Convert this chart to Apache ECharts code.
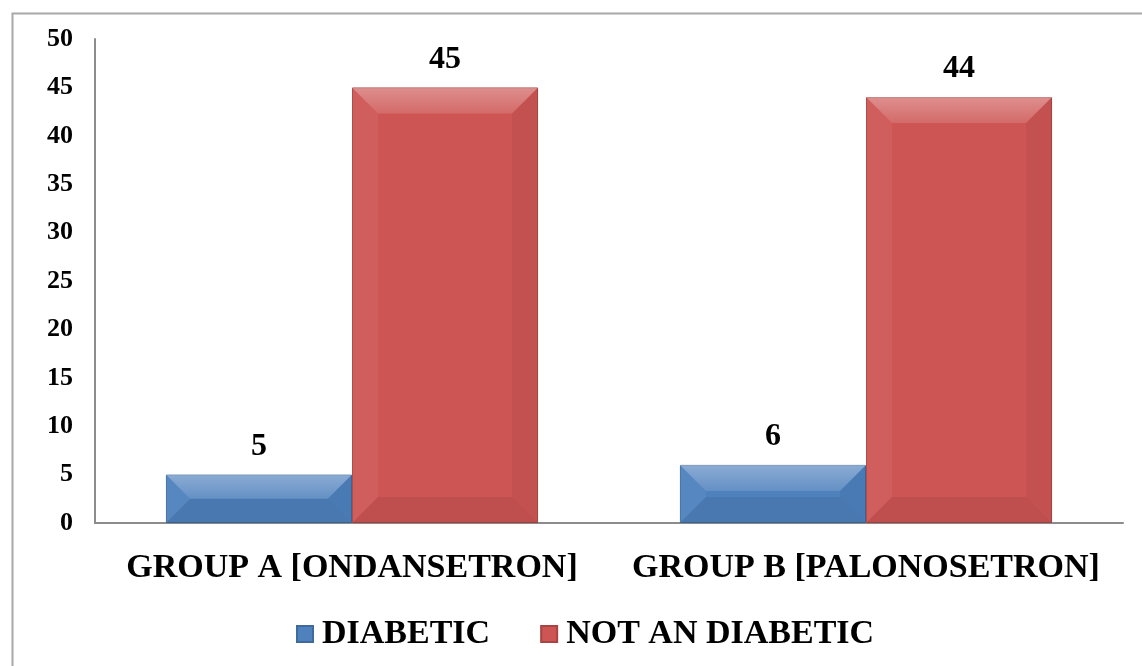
<!DOCTYPE html>
<html>
<head>
<meta charset="utf-8">
<script src="https://cdn.jsdelivr.net/npm/echarts@6/dist/echarts.min.js"></script>
<style>
  html, body { margin: 0; padding: 0; background: #fff; }
  #chart { width: 1142px; height: 666px; }
</style>
</head>
<body>
<div id="chart"></div>
<script>
// Patient counts per treatment group
const categories = ['GROUP A [ONDANSETRON]', 'GROUP B [PALONOSETRON]'];
const seriesNames = ['DIABETIC', 'NOT AN DIABETIC'];
const diabetic = [5, 6];
const notDiabetic = [45, 44];

const FONT = '"Liberation Serif", "Times New Roman", serif';
const GAP = 0.276;            // share of each category left empty
const baseColors = ['#4f81bd', '#cd5654'];
const edgeColors = ['#3f6a9c', '#a84442'];

// Bevelled facets drawn over each bar, positioned through the axes
function bevel(seriesIdx) {
  return function (params, api) {
    const cat = api.value(0);
    const val = api.value(1);
    const top = api.coord([cat, val]);
    const bottom = api.coord([cat, 0]);
    const band = api.size([1, 0])[0];
    const barW = band * (1 - GAP) / 2;
    const x0 = top[0] - barW + seriesIdx * barW;
    const x1 = x0 + barW;
    const y0 = top[1];
    const y1 = bottom[1];
    const h = y1 - y0;
    const b = Math.min(26, h / 2, barW / 2);
    const poly = (pts, fill) => ({ type: 'polygon', shape: { points: pts }, style: { fill: fill }, silent: true });
    return {
      type: 'group',
      children: [
        poly([[x0, y0], [x1, y0], [x1 - b, y0 + b], [x0 + b, y0 + b]], {
          type: 'linear', x: 0, y: 0, x2: 0, y2: 1,
          colorStops: [{ offset: 0, color: 'rgba(255,255,255,0.34)' }, { offset: 1, color: 'rgba(255,255,255,0.12)' }]
        }),
        poly([[x0, y0], [x0 + b, y0 + b], [x0 + b, y1 - b], [x0, y1]], 'rgba(255,255,255,0.05)'),
        poly([[x1, y0], [x1 - b, y0 + b], [x1 - b, y1 - b], [x1, y1]], 'rgba(0,0,0,0.05)'),
        poly([[x0, y1], [x0 + b, y1 - b], [x1 - b, y1 - b], [x1, y1]], 'rgba(0,0,0,0.07)')
      ]
    };
  };
}

const chart = echarts.init(document.getElementById('chart'));
chart.setOption({
  animation: false,
  backgroundColor: '#fff',
  graphic: [{
    type: 'rect',
    left: 10, top: 11,
    shape: { width: 1200, height: 720 },
    style: { fill: 'none', stroke: '#a8a8a8', lineWidth: 2 },
    silent: true
  }],
  grid: { left: 95, right: 19, top: 39, bottom: 143 },
  legend: {
    data: seriesNames.map((n, i) => ({ name: n, icon: 'rect', itemStyle: { color: baseColors[i] } })),
    bottom: 10,
    left: 291,
    itemWidth: 16,
    itemHeight: 16,
    itemGap: 50,
    textStyle: { fontFamily: FONT, fontWeight: 'bold', fontSize: 34, color: '#000', padding: [0, 0, 0, 4] }
  },
  xAxis: {
    type: 'category',
    data: categories,
    axisLine: { lineStyle: { color: '#8c8c8c', width: 2 } },
    axisTick: { show: false },
    axisLabel: { interval: 0, fontFamily: FONT, fontWeight: 'bold', fontSize: 34, color: '#000', margin: 28 }
  },
  yAxis: {
    type: 'value',
    min: 0, max: 50, interval: 5,
    axisLine: { show: true, lineStyle: { color: '#8c8c8c', width: 2 } },
    axisTick: { show: false },
    splitLine: { show: false },
    axisLabel: { fontFamily: FONT, fontWeight: 'bold', fontSize: 26, color: '#000', margin: 22 }
  },
  series: [
    {
      name: seriesNames[0], type: 'bar', data: diabetic,
      barGap: '0%', barCategoryGap: (GAP * 100) + '%',
      itemStyle: { color: baseColors[0], borderColor: edgeColors[0], borderWidth: 1 },
      label: { show: true, position: 'top', distance: 12, fontFamily: FONT, fontWeight: 'bold', fontSize: 32, color: '#000' }
    },
    {
      name: seriesNames[1], type: 'bar', data: notDiabetic,
      barGap: '0%', barCategoryGap: (GAP * 100) + '%',
      itemStyle: { color: baseColors[1], borderColor: edgeColors[1], borderWidth: 1 },
      label: { show: true, position: 'top', distance: 12, fontFamily: FONT, fontWeight: 'bold', fontSize: 32, color: '#000' }
    },
    {
      name: 'bevel-0', type: 'custom', silent: true, z: 3,
      renderItem: bevel(0),
      data: diabetic.map((v, i) => [i, v])
    },
    {
      name: 'bevel-1', type: 'custom', silent: true, z: 3,
      renderItem: bevel(1),
      data: notDiabetic.map((v, i) => [i, v])
    }
  ]
});
</script>
</body>
</html>
